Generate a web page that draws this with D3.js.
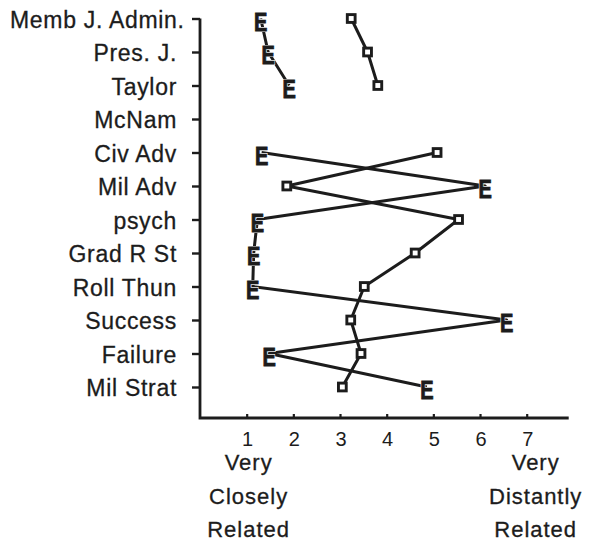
<!DOCTYPE html>
<html>
<head>
<meta charset="utf-8">
<script src="https://cdn.jsdelivr.net/npm/d3@7"></script>
<style>
  body { margin: 0; background: #fff; }
  svg text { font-family: "Liberation Sans", Arial, Helvetica, sans-serif; fill: #1c1c1c; }
</style>
</head>
<body>
<svg id="Vis" width="599" height="542"></svg>
<script>
/*
* DATA
*/

const categories = ["Memb J. Admin.", "Pres. J.", "Taylor", "McNam", "Civ Adv", "Mil Adv",
  "psych", "Grad R St", "Roll Thun", "Success", "Failure", "Mil Strat"];

// "E" series and open-square series, null = no rating
const eValues  = [1.30, 1.46, 1.91, null, 1.32, 6.11, 1.23, 1.15, 1.13, 6.57, 1.48, 4.86];
const sqValues = [3.24, 3.59, 3.81, null, 5.08, 1.86, 5.54, 4.61, 3.52, 3.23, 3.45, 3.05];

const xTicks = [1, 2, 3, 4, 5, 6, 7];
const lowLabel = ["Very", "Closely", "Related"];
const highLabel = ["Very", "Distantly", "Related"];

/*
* SETUP
*/

const svg = d3.select("svg#Vis");
const ink = "#1c1c1c";

const x = d3.scaleLinear().domain([0, 7.9]).range([200, 568.7]);
const y = d3.scalePoint().domain(categories).range([18.5, 387]);
const axisBottomY = 418;

const g = {
  axes: svg.append("g"),
  labels: svg.append("g"),
  lines: svg.append("g"),
  marks: svg.append("g")
};

/*
* AXES
*/

// frame: left axis down to the bottom axis
g.axes.append("path")
  .attr("d", `M${x(0)},${y(categories[0])}V${axisBottomY}H${x(7.9)}`)
  .attr("fill", "none")
  .attr("stroke", ink)
  .attr("stroke-width", 2.8);

// left ticks (outward)
g.axes.append("g")
  .attr("transform", `translate(${x(0)},0)`)
  .call(d3.axisLeft(y).tickSize(8).tickFormat(""))
  .call(a => a.select(".domain").remove())
  .call(a => a.selectAll("line").attr("stroke", ink).attr("stroke-width", 2.4));

// bottom ticks (inward) + numbers
g.axes.append("g")
  .attr("transform", `translate(0,${axisBottomY})`)
  .call(d3.axisBottom(x).tickValues(xTicks).tickSize(-4).tickFormat(""))
  .call(a => a.select(".domain").remove())
  .call(a => a.selectAll("line").attr("stroke", ink).attr("stroke-width", 2.2));

g.axes.selectAll("text.xnum")
  .data(xTicks)
  .join("text")
  .attr("class", "xnum")
  .attr("x", d => x(d) + 1)
  .attr("y", 446)
  .attr("text-anchor", "middle")
  .style("font-size", "20px")
  .text(d => d);

/* Category labels */
const catText = g.labels.selectAll("text.cat")
  .data(categories)
  .join("text")
  .attr("class", "cat")
  .attr("x", 177)
  .attr("y", d => y(d) + 9)
  .attr("text-anchor", "end")
  .style("font-size", "23px")
  .style("letter-spacing", "0.7px")
  .style("stroke", ink)
  .style("stroke-width", 0.3)
  .text(d => d);

// keep long labels inside the page
catText.each(function() {
  const b = this.getBBox();
  if (b.x < 10) d3.select(this).attr("x", 177 + (10 - b.x));
});

/* End labels of the scale */
function endLabel(lines, cx) {
  g.labels.selectAll(null)
    .data(lines)
    .join("text")
    .attr("x", cx)
    .attr("y", (d, i) => 470 + i * 33.5)
    .attr("text-anchor", "middle")
    .style("font-size", "22px")
    .style("letter-spacing", "1px")
    .style("stroke", ink)
    .style("stroke-width", 0.3)
    .text(d => d);
}
endLabel(lowLabel, x(1) + 2);
endLabel(highLabel, x(7) + 9);

/*
* SERIES
*/

function drawLine(values) {
  const pts = categories.map((c, i) => ({ c, v: values[i] }));
  const line = d3.line()
    .defined(d => d.v != null)
    .x(d => x(d.v))
    .y(d => y(d.c));
  g.lines.append("path")
    .datum(pts)
    .attr("d", line)
    .attr("fill", "none")
    .attr("stroke", ink)
    .attr("stroke-width", 3)
    .attr("stroke-linejoin", "round");
  return pts.filter(d => d.v != null);
}

const ePts = drawLine(eValues);
const sqPts = drawLine(sqValues);

/* E markers (narrow, heavy letter): thin white halo first, then the letter */
function eMark(cls, stroke, width) {
  g.marks.selectAll("text." + cls)
    .data(ePts)
    .join("text")
    .attr("class", cls)
    .attr("transform", d => `translate(${x(d.v)},${y(d.c) + 12}) scale(0.8,1)`)
    .attr("text-anchor", "middle")
    .style("font-size", "25px")
    .style("font-weight", "bold")
    .style("stroke", stroke)
    .style("stroke-width", width)
    .text("E");
}
eMark("ehalo", "#fff", 2.2);
eMark("e", ink, 0.9);

/* Square markers */
g.marks.selectAll("rect.sq")
  .data(sqPts)
  .join("rect")
  .attr("class", "sq")
  .attr("x", d => x(d.v) - 3.9)
  .attr("y", d => y(d.c) - 3.9)
  .attr("width", 7.8)
  .attr("height", 7.8)
  .attr("fill", "#fff")
  .attr("stroke", ink)
  .attr("stroke-width", 2.9);
</script>
</body>
</html>
